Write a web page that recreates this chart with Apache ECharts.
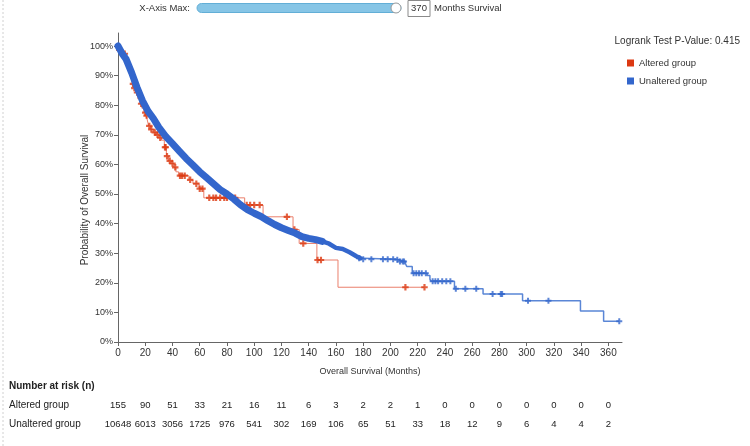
<!DOCTYPE html>
<html><head><meta charset="utf-8">
<script src="https://cdn.jsdelivr.net/npm/echarts@6/dist/echarts.min.js"></script>
<style>html,body{margin:0;padding:0;background:#fff}#c{width:750px;height:446px}</style>
</head><body><div id="c"></div>
<script>
const xTicks = [0,20,40,60,80,100,120,140,160,180,200,220,240,260,280,300,320,340,360];
const yTicks = [0,0.1,0.2,0.3,0.4,0.5,0.6,0.7,0.8,0.9,1.0];
const groups = ['Altered group','Unaltered group'];
const xMax = 370;
const pValue = '0.415';

const alteredCurve = [
  [0,1.0],[2,0.987],[4,0.974],[6,0.955],[8,0.93],[9.5,0.9],[10.5,0.872],[11.5,0.858],[13,0.843],
  [14.5,0.822],[16,0.805],[17.5,0.79],[19,0.775],[20.5,0.765],[21.5,0.75],[22.5,0.73],[24,0.718],
  [26,0.708],[28,0.7],[30,0.69],[32,0.682],[34,0.658],[35.5,0.628],[37,0.612],[39,0.603],[41,0.59],
  [42.5,0.575],[44.5,0.562],[52,0.548],[55,0.535],[59.5,0.518],[63,0.487],[93,0.463],[106.5,0.423],
  [128.5,0.38],[133,0.333],[146,0.277],[161.5,0.185],[225,0.185]
];
const alteredCensor = [
  [1,0.987],[5,0.974],[11,0.872],[12,0.858],[14,0.843],[17,0.805],[20,0.775],[21,0.765],[23,0.73],
  [24.5,0.718],[27,0.708],[29,0.7],[31,0.69],[34.5,0.658],[35,0.658],[36,0.628],[38,0.612],[40,0.603],
  [42,0.59],[45.5,0.562],[47,0.562],[49,0.562],[53,0.548],[57.5,0.535],[60,0.518],[62,0.518],
  [67,0.487],[70,0.487],[72,0.487],[75,0.487],[78,0.487],[80,0.487],[86,0.487],[94.5,0.463],
  [97,0.463],[100,0.463],[104,0.463],[124,0.423],[129.5,0.38],[136,0.333],[146.5,0.277],[149,0.277],
  [211,0.185],[225,0.185]
];
const unalteredCurve = [
  [0,1.0],[3,0.975],[6,0.955],[10,0.91],[14,0.86],[18,0.815],[22,0.78],[26,0.755],[30,0.725],
  [35,0.695],[40,0.67],[45,0.645],[50,0.62],[55,0.598],[60,0.575],[65,0.555],[70,0.535],[75,0.515],
  [80,0.5],[85,0.483],[90,0.463],[95,0.447],[100,0.435],[105,0.424],[110,0.41],[115,0.397],
  [120,0.386],[125,0.377],[130,0.368],[135,0.356],[140,0.35],[145,0.346],[150,0.34],[155,0.332],
  [160,0.318],[165,0.314],[170,0.303],[175,0.29],[178,0.283],[180,0.28],[204,0.278],[206,0.272],
  [211,0.265],[212,0.255],[216,0.232],[227,0.225],[229,0.212],[230,0.205],[247,0.18],[268,0.162],
  [297,0.139],[339.5,0.105],[356.5,0.07],[368,0.07]
];
const unalteredCensor = [
  [177,0.283],[180,0.28],[186,0.28],[194.5,0.28],[198,0.28],[202,0.28],[205,0.278],[207,0.272],
  [209,0.272],[210,0.272],[217,0.232],[219,0.232],[221,0.232],[223,0.232],[226,0.232],[231,0.205],
  [233,0.205],[235,0.205],[238,0.205],[241,0.205],[244,0.205],[248,0.18],[255,0.18],[263,0.18],
  [275,0.162],[281,0.162],[282,0.162],[301,0.139],[316,0.139],[368,0.07]
];
const alteredAtRisk = [155,90,51,33,21,16,11,6,3,2,2,1,0,0,0,0,0,0,0];
const unalteredAtRisk = [10648,6013,3056,1725,976,541,302,169,106,65,51,33,18,12,9,6,4,4,2];

const RED = '#dc3912', RED_LINE = '#ea7f6c', BLUE = '#3366cc', BLUE_LINE = '#5a86d6';
const PLUS = 'path://M2,0H4V2H6V4H4V6H2V4H0V2H2Z';
const FONT = 'Liberation Sans, Arial, sans-serif';

const chart = echarts.init(document.getElementById('c'), null, {renderer:'canvas'});
const option = {
  animation: false,
  textStyle: {fontFamily: FONT},
  grid: {left:118, right:128, top:33, bottom:104, containLabel:false},
  legend: {
    data: groups, orient:'vertical', left:622, top:53, itemGap:8, itemWidth:7, itemHeight:7,
    icon:'rect', textStyle:{fontSize:9.5, color:'#333', fontFamily:FONT}, selectedMode:false
  },
  xAxis: {
    type:'value', min:0, max:xMax, interval:20,
    axisLine:{show:true, lineStyle:{color:'#666'}},
    axisTick:{show:true, customValues:xTicks, length:4, lineStyle:{color:'#666'}},
    axisLabel:{customValues:xTicks, fontSize:10, color:'#333', margin:6},
    splitLine:{show:false},
    name:'Overall Survival (Months)', nameLocation:'middle', nameGap:25,
    nameTextStyle:{fontSize:9, color:'#333'}
  },
  yAxis: {
    type:'value', min:0, max:1.044,
    axisLine:{show:true, lineStyle:{color:'#666'}},
    axisTick:{show:true, customValues:yTicks, length:4, lineStyle:{color:'#666'}},
    axisLabel:{customValues:yTicks, fontSize:9, color:'#333', margin:5,
      formatter: v => Math.round(v*100) + '%'},
    splitLine:{show:false}
  },
  series: [
    {name:groups[0], type:'line', step:'end', data:alteredCurve, showSymbol:false, symbol:'none',
      lineStyle:{color:RED_LINE, width:1}, itemStyle:{color:RED}, z:2},
    {name:'altered-censor', type:'scatter', data:alteredCensor, symbol:PLUS, symbolSize:6.5,
      itemStyle:{color:RED}, z:3},
    {name:groups[1], type:'line', step:'end', data:unalteredCurve.filter(d => d[0] >= 175),
      showSymbol:false, symbol:'none', lineStyle:{color:BLUE_LINE, width:1.5}, itemStyle:{color:BLUE}, z:4},
    {name:'unaltered-dense-a', type:'line', data:unalteredCurve.filter(d => d[0] <= 150),
      showSymbol:false, symbol:'none', lineStyle:{color:BLUE, width:7, cap:'round', join:'round'}, z:5},
    {name:'unaltered-dense-b', type:'line', data:unalteredCurve.filter(d => d[0] >= 145 && d[0] <= 178),
      showSymbol:false, symbol:'none', lineStyle:{color:BLUE, width:4.5, cap:'round', join:'round'}, z:5},
    {name:'unaltered-censor', type:'scatter', data:unalteredCensor, symbol:PLUS, symbolSize:6,
      itemStyle:{color:BLUE}, z:6}
  ]
};
chart.setOption(option);

const g = [];
g.push({type:'line', shape:{x1:3,y1:0,x2:3,y2:446}, style:{stroke:'#d0d0d0', lineDash:[2,2], lineWidth:1}});
g.push({type:'text', x:190, y:8, style:{text:'X-Axis Max:', fontSize:9.5, fill:'#333', align:'right', verticalAlign:'middle', fontFamily:FONT}});
g.push({type:'rect', shape:{x:197, y:3.5, width:204, height:9, r:4.5}, style:{fill:'#86c5e6', stroke:'#62aed6', lineWidth:1}});
g.push({type:'circle', shape:{cx:396, cy:8, r:5}, style:{fill:'#fff', stroke:'#9a9a9a', lineWidth:1}});
g.push({type:'rect', shape:{x:408, y:0.5, width:22, height:16}, style:{fill:'#fff', stroke:'#8a8a8a', lineWidth:1}});
g.push({type:'text', x:419, y:8.5, style:{text:String(xMax), fontSize:9.5, fill:'#333', align:'center', verticalAlign:'middle', fontFamily:FONT}});
g.push({type:'text', x:434, y:8.5, style:{text:'Months Survival', fontSize:9.5, fill:'#333', align:'left', verticalAlign:'middle', fontFamily:FONT}});
g.push({type:'text', x:740, y:41, style:{text:'Logrank Test P-Value: ' + pValue, fontSize:10, fill:'#333', align:'right', verticalAlign:'middle', fontFamily:FONT}});
g.push({type:'text', x:85, y:200, rotation:Math.PI/2, style:{text:'Probability of Overall Survival', fontSize:10, fill:'#333', align:'center', verticalAlign:'middle', fontFamily:FONT}});
g.push({type:'text', x:9, y:386, style:{text:'Number at risk (n)', fontSize:10, fontWeight:'bold', fill:'#222', align:'left', verticalAlign:'middle', fontFamily:FONT}});
g.push({type:'text', x:9, y:405, style:{text:groups[0], fontSize:10, fill:'#222', align:'left', verticalAlign:'middle', fontFamily:FONT}});
g.push({type:'text', x:9, y:424, style:{text:groups[1], fontSize:10, fill:'#222', align:'left', verticalAlign:'middle', fontFamily:FONT}});
xTicks.forEach((t, i) => {
  const px = chart.convertToPixel({xAxisIndex:0}, t);
  g.push({type:'text', x:px, y:405, style:{text:String(alteredAtRisk[i]), fontSize:9.5, fill:'#222', align:'center', verticalAlign:'middle', fontFamily:FONT}});
  g.push({type:'text', x:px, y:424, style:{text:String(unalteredAtRisk[i]), fontSize:9.5, fill:'#222', align:'center', verticalAlign:'middle', fontFamily:FONT}});
});
chart.setOption({graphic: g});
</script></body></html>
